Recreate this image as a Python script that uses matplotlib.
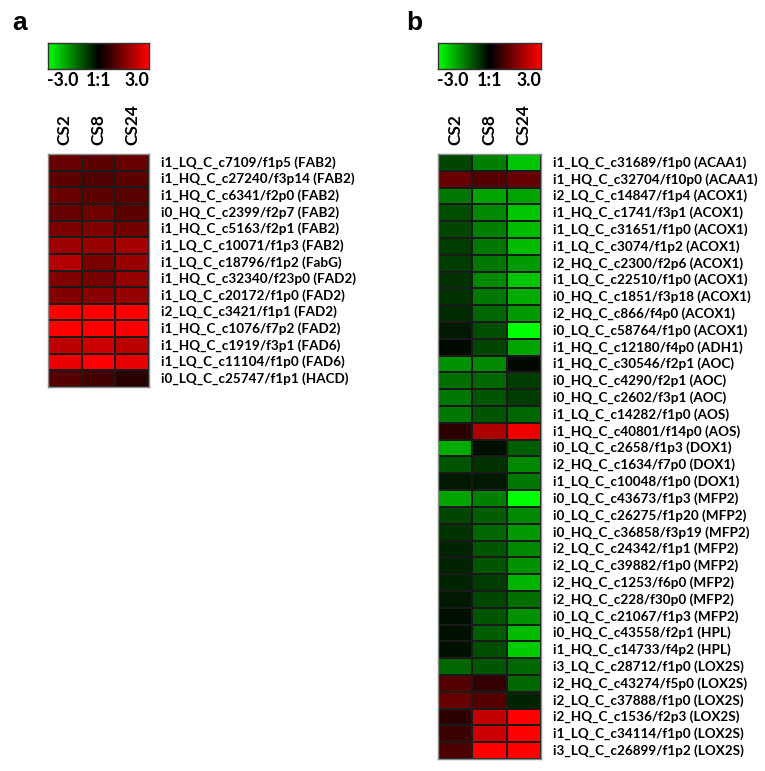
import numpy as np
import matplotlib
matplotlib.use("Agg")
import matplotlib.pyplot as plt
from matplotlib.colors import LinearSegmentedColormap

W, H = 765, 771
conditions = ["CS2", "CS8", "CS24"]

a_labels = [
    "i1_LQ_C_c7109/f1p5 (FAB2)", "i1_HQ_C_c27240/f3p14 (FAB2)", "i1_HQ_C_c6341/f2p0 (FAB2)",
    "i0_HQ_C_c2399/f2p7 (FAB2)", "i1_HQ_C_c5163/f2p1 (FAB2)", "i1_LQ_C_c10071/f1p3 (FAB2)",
    "i1_LQ_C_c18796/f1p2 (FabG)", "i1_HQ_C_c32340/f23p0 (FAD2)", "i1_LQ_C_c20172/f1p0 (FAD2)",
    "i2_LQ_C_c3421/f1p1 (FAD2)", "i1_HQ_C_c1076/f7p2 (FAD2)", "i1_HQ_C_c1919/f3p1 (FAD6)",
    "i1_LQ_C_c11104/f1p0 (FAD6)", "i0_LQ_C_c25747/f1p1 (HACD)",
]
a_cs2 = [1.2, 1.1, 1.25, 1.2, 1.45, 1.85, 2.1, 1.5, 1.5, 3.0, 3.0, 2.2, 2.75, 1.0]
a_cs8 = [1.1, 0.95, 1.1, 1.3, 1.5, 1.8, 1.45, 1.4, 1.6, 3.0, 3.0, 2.4, 3.0, 0.8]
a_cs24 = [1.2, 1.1, 1.05, 1.1, 1.35, 1.95, 1.8, 1.75, 1.75, 3.0, 2.95, 2.2, 2.7, 0.5]

b_labels = [
    "i1_LQ_C_c31689/f1p0 (ACAA1)", "i1_HQ_C_c32704/f10p0 (ACAA1)", "i2_LQ_C_c14847/f1p4 (ACOX1)",
    "i1_HQ_C_c1741/f3p1 (ACOX1)", "i1_LQ_C_c31651/f1p0 (ACOX1)", "i1_LQ_C_c3074/f1p2 (ACOX1)",
    "i2_HQ_C_c2300/f2p6 (ACOX1)", "i1_LQ_C_c22510/f1p0 (ACOX1)", "i0_HQ_C_c1851/f3p18 (ACOX1)",
    "i2_HQ_C_c866/f4p0 (ACOX1)", "i0_LQ_C_c58764/f1p0 (ACOX1)", "i1_HQ_C_c12180/f4p0 (ADH1)",
    "i1_HQ_C_c30546/f2p1 (AOC)", "i0_HQ_C_c4290/f2p1 (AOC)", "i0_HQ_C_c2602/f3p1 (AOC)",
    "i1_LQ_C_c14282/f1p0 (AOS)", "i1_HQ_C_c40801/f14p0 (AOS)", "i0_LQ_C_c2658/f1p3 (DOX1)",
    "i2_HQ_C_c1634/f7p0 (DOX1)", "i1_LQ_C_c10048/f1p0 (DOX1)", "i0_LQ_C_c43673/f1p3 (MFP2)",
    "i0_LQ_C_c26275/f1p20 (MFP2)", "i0_HQ_C_c36858/f3p19 (MFP2)", "i2_LQ_C_c24342/f1p1 (MFP2)",
    "i2_LQ_C_c39882/f1p0 (MFP2)", "i2_HQ_C_c1253/f6p0 (MFP2)", "i2_HQ_C_c228/f30p0 (MFP2)",
    "i0_LQ_C_c21067/f1p3 (MFP2)", "i0_HQ_C_c43558/f2p1 (HPL)", "i1_HQ_C_c14733/f4p2 (HPL)",
    "i3_LQ_C_c28712/f1p0 (LOX2S)", "i2_HQ_C_c43274/f5p0 (LOX2S)", "i2_LQ_C_c37888/f1p0 (LOX2S)",
    "i2_HQ_C_c1536/f2p3 (LOX2S)", "i1_LQ_C_c34114/f1p0 (LOX2S)", "i3_LQ_C_c26899/f1p2 (LOX2S)",
]
b_cs2 = [-0.8, 1.2, -1.4, -0.9, -0.8, -0.7, -0.7, -0.6, -0.6, -0.5, -0.3, -0.1,
         -1.7, -1.3, -1.4, -1.4, 0.5, -2.0, -1.0, -0.3, -1.9, -0.8, -0.6, -0.4,
         -0.4, -0.4, -0.3, -0.2, -0.2, -0.2, -1.2, 1.0, 1.2, 0.5, 0.7, 0.9]
b_cs8 = [-1.5, 1.0, -1.9, -1.6, -1.5, -1.4, -1.4, -1.6, -1.4, -1.2, -0.9, -0.8,
         -1.6, -1.2, -1.0, -1.0, 2.0, -0.2, -0.6, -0.3, -1.5, -1.1, -1.2, -1.0,
         -1.0, -0.7, -0.8, -1.0, -1.1, -0.9, -1.0, 0.6, 1.0, 2.3, 2.4, 3.0]
b_cs24 = [-2.3, 1.2, -1.9, -2.3, -2.2, -2.2, -1.8, -2.3, -2.0, -1.8, -3.0, -1.9,
          -0.1, -0.7, -0.7, -1.2, 2.8, -1.1, -1.6, -1.4, -3.0, -1.6, -1.8, -1.6,
          -1.7, -2.1, -1.3, -1.7, -2.2, -2.4, -1.2, -1.2, -0.4, 3.0, 3.0, 3.0]

cmap = LinearSegmentedColormap.from_list("gkr", ["#00ff00", "#000000", "#ff0000"])
FONT = ["Lato", "DejaVu Sans"]

fig = plt.figure(figsize=(W / 100, H / 100), dpi=100)
fig.patch.set_facecolor("white")


def ax_px(x0, y0, x1, y1):
    return fig.add_axes([x0 / W, 1 - y1 / H, (x1 - x0) / W, (y1 - y0) / H])


def ftext(x, y, s, **kw):
    fig.text(x / W, 1 - y / H, s, **kw)


def panel(letter, lx, hx0, hx1, hy0, hy1, labels, cols):
    ftext(lx, 30, letter, fontsize=19, fontweight="bold", family=["Liberation Sans", "DejaVu Sans"],
          ha="left", va="baseline")
    # colour scale
    cax = ax_px(hx0, 43, hx1, 69)
    grad = np.linspace(-3, 3, 256)[None, :]
    cax.imshow(grad, cmap=cmap, vmin=-3, vmax=3, aspect="auto", extent=[-3, 3, 0, 1])
    cax.set_xticks([]); cax.set_yticks([])
    for s in cax.spines.values():
        s.set_color("#333333"); s.set_linewidth(1.0)
    ftext(hx0 - 1, 80, "-3.0", fontsize=12.8, fontweight="bold", family=FONT, ha="left", va="center")
    ftext((hx0 + hx1) / 2 + 0.5, 80, "1:1", fontsize=12.8, fontweight="bold", family=FONT, ha="center", va="center")
    ftext(hx1, 80, "3.0", fontsize=12.8, fontweight="bold", family=FONT, ha="right", va="center")
    # heatmap
    data = np.array(cols).T
    nrow, ncol = data.shape
    ax = ax_px(hx0, hy0, hx1, hy1)
    ax.pcolormesh(np.arange(ncol + 1), np.arange(nrow + 1), data, cmap=cmap, vmin=-3, vmax=3,
                  edgecolors="#1a1a1a", linewidth=1.4)
    ax.set_xlim(0, ncol); ax.set_ylim(nrow, 0)
    ax.set_xticks([]); ax.set_yticks([])
    for s in ax.spines.values():
        s.set_color("#8a8a8a"); s.set_linewidth(1.0)
    cw = (hx1 - hx0) / ncol
    for j, c in enumerate(conditions):
        ftext(hx0 + cw * (j + 0.5), 145, c, fontsize=12.5, fontweight="bold", family=FONT,
              rotation=90, ha="center", va="bottom")
    rh = (hy1 - hy0) / nrow
    for i, lab in enumerate(labels):
        ftext(hx1 + 12, hy0 + rh * (i + 0.5), lab, fontsize=9.7, fontweight="bold", family=FONT,
              ha="left", va="center")


panel("a", 12, 48, 149, 154, 387, a_labels, [a_cs2, a_cs8, a_cs24])
panel("b", 406, 438, 541, 154, 759, b_labels, [b_cs2, b_cs8, b_cs24])

fig.savefig("out.png", dpi=100, facecolor="white")
